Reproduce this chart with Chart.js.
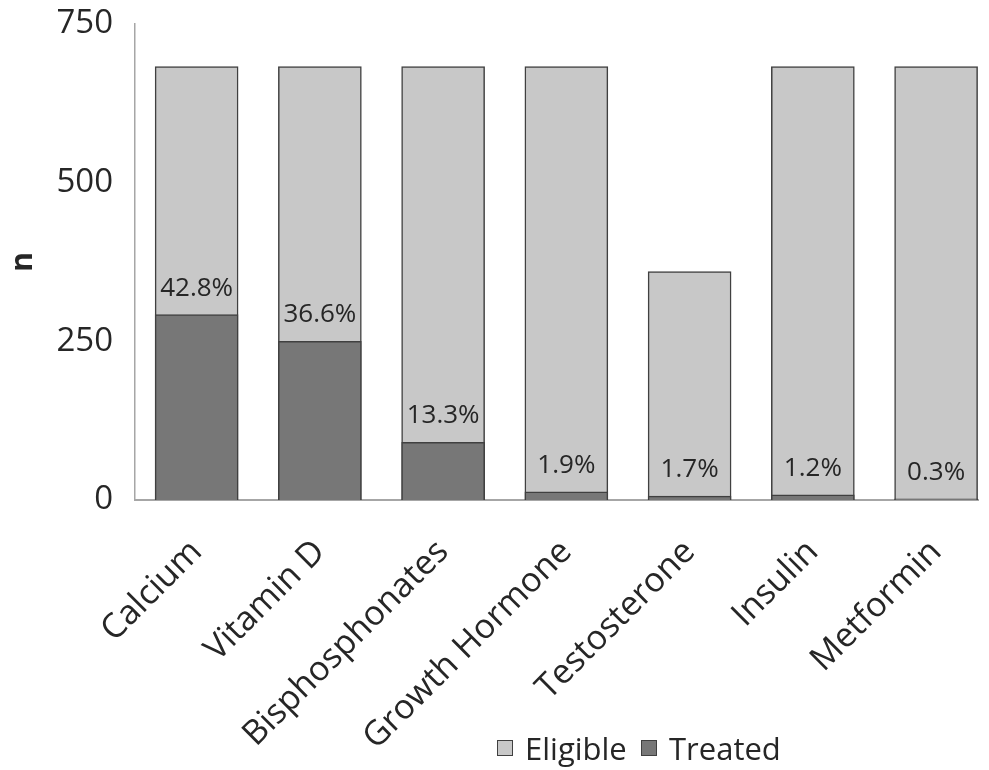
<!DOCTYPE html>
<html>
<head>
<meta charset="utf-8">
<title>Eligible and treated patients by therapy</title>
<script src="https://cdn.jsdelivr.net/npm/chart.js@4/dist/chart.umd.min.js"></script>
<style>
  html, body { margin: 0; padding: 0; background: #ffffff; }
  #wrap { position: relative; width: 989px; height: 770px; }
  #legend { position: absolute; left: 0; top: 729px; font-family: 'Open Sans', sans-serif; font-size: 31px; color: #262626; }
  .item { position: absolute; top: 0; display: flex; align-items: center; white-space: nowrap; line-height: 38px; }
  .sw { width: 16px; height: 16px; box-sizing: border-box; border: 1.5px solid #404040; margin-right: 12px; }
</style>
</head>
<body>
<div id="wrap">
  <canvas id="chart" width="989" height="770"></canvas>
  <div id="legend"></div>
</div>
<script>
// Therapies on the x axis
const categories = ['Calcium', 'Vitamin D', 'Bisphosphonates', 'Growth Hormone', 'Testosterone', 'Insulin', 'Metformin'];
// Patients eligible for each therapy (n)
const eligible = [683, 683, 683, 683, 360, 683, 683];
// Patients actually treated (n)
const treated = [292, 250, 91, 13, 6, 8, 2];
// Value-axis tick labels
const yTicks = [0, 250, 500, 750];

const seriesNames = ['Eligible', 'Treated'];
const seriesFill = ['#c8c8c8', '#777777'];
const edgeColor = '#404040';
const textColor = '#262626';

// Percentage of eligible patients treated, written above each treated bar
const pctLabels = {
  id: 'pctLabels',
  afterDatasetsDraw(chart) {
    const meta = chart.getDatasetMeta(1);
    const ctx = chart.ctx;
    ctx.save();
    ctx.font = "26px 'Open Sans'";
    ctx.fillStyle = textColor;
    ctx.textAlign = 'center';
    ctx.textBaseline = 'alphabetic';
    meta.data.forEach((bar, i) => {
      const pct = (treated[i] / eligible[i] * 100).toFixed(1) + '%';
      ctx.fillText(pct, bar.x, bar.y - 19);
    });
    ctx.restore();
  }
};

const toPoints = arr => arr.map((v, i) => ({ x: i, y: v }));

new Chart(document.getElementById('chart'), {
  type: 'bar',
  data: {
    datasets: [
      {
        label: seriesNames[0],
        data: toPoints(eligible),
        backgroundColor: seriesFill[0],
        borderColor: edgeColor,
        borderWidth: 1.5,
        barThickness: 83,
        grouped: false,
        order: 2
      },
      {
        label: seriesNames[1],
        data: toPoints(treated),
        backgroundColor: seriesFill[1],
        borderColor: edgeColor,
        borderWidth: 1.5,
        barThickness: 83,
        grouped: false,
        order: 1
      }
    ]
  },
  options: {
    responsive: false,
    animation: false,
    layout: { padding: { top: 24, right: 11, left: 0, bottom: 0 } },
    plugins: {
      legend: { display: false },
      tooltip: { enabled: false }
    },
    scales: {
      x: {
        type: 'linear',
        offset: false,
        min: -0.5,
        max: 6.34,
        afterBuildTicks: scale => { scale.ticks = categories.map((_, i) => ({ value: i })); },
        afterFit: scale => { scale.height = 270; scale.paddingLeft = 0; scale.paddingRight = 0; },
        grid: { display: false },
        border: { display: true, color: '#a6a6a6', width: 2 },
        ticks: {
          autoSkip: false,
          maxRotation: 45,
          minRotation: 45,
          padding: 24,
          color: textColor,
          font: { family: "'Open Sans'", size: 34 },
          callback: v => categories[v]
        }
      },
      y: {
        min: 0,
        max: 750,
        afterBuildTicks: scale => { scale.ticks = yTicks.map(v => ({ value: v })); },
        afterFit: scale => { scale.width = 135; scale.paddingTop = 0; scale.paddingBottom = 0; },
        grid: { display: false, drawTicks: false },
        border: { display: true, color: '#a6a6a6', width: 1.5 },
        ticks: {
          padding: 22,
          color: textColor,
          font: { family: "'Open Sans'", size: 33 }
        },
        title: {
          display: true,
          text: 'n',
          color: textColor,
          padding: { top: 5, bottom: 0 },
          font: { family: "'Open Sans'", size: 30, weight: 'bold' }
        }
      }
    }
  },
  plugins: [pctLabels]
});

// Legend below the plot
const legend = document.getElementById('legend');
const legendLeft = [497, 641];
seriesNames.forEach((name, i) => {
  const item = document.createElement('div');
  item.className = 'item';
  item.style.left = legendLeft[i] + 'px';
  const sw = document.createElement('span');
  sw.className = 'sw';
  sw.style.background = seriesFill[i];
  const txt = document.createElement('span');
  txt.textContent = name;
  item.appendChild(sw);
  item.appendChild(txt);
  legend.appendChild(item);
});
</script>
</body>
</html>
